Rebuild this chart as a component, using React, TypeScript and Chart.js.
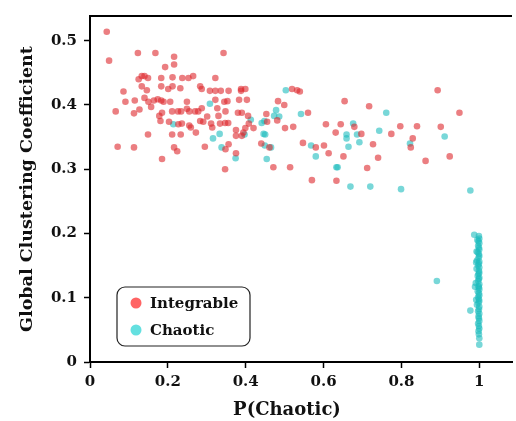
import React, { useEffect, useRef } from "react";
import { Chart, registerables } from "chart.js";
Chart.register(...registerables);

const seriesLabels = ["Integrable", "Chaotic"];
const xTitle = "P(Chaotic)";
const yTitle = "Global Clustering Coefficient";
const xTicks = [0, 0.2, 0.4, 0.6, 0.8, 1];
const yTicks = [0, 0.1, 0.2, 0.3, 0.4, 0.5];

const integrableX = [
  0.043, 0.049, 0.123, 0.168, 0.216, 0.216, 0.193, 0.343, 0.086, 0.091, 0.066, 0.071, 0.113, 0.113, 0.115, 0.127,
  0.125, 0.133, 0.14, 0.149, 0.133, 0.146, 0.14, 0.15, 0.157, 0.149, 0.164, 0.174, 0.183, 0.189, 0.183, 0.183,
  0.201, 0.212, 0.212, 0.237, 0.253, 0.265, 0.232, 0.206, 0.181, 0.178, 0.185, 0.203, 0.211, 0.233, 0.216, 0.224,
  0.185, 0.211, 0.226, 0.234, 0.236, 0.227, 0.249, 0.249, 0.255, 0.259, 0.255, 0.27, 0.278, 0.287, 0.283, 0.287,
  0.272, 0.283, 0.291, 0.295, 0.301, 0.311, 0.314, 0.308, 0.322, 0.336, 0.322, 0.322, 0.327, 0.33, 0.334, 0.345,
  0.348, 0.347, 0.355, 0.353, 0.356, 0.348, 0.356, 0.347, 0.375, 0.375, 0.375, 0.388, 0.383, 0.388, 0.399, 0.403,
  0.38, 0.39, 0.406, 0.408, 0.399, 0.42, 0.394, 0.39,
  0.519, 0.532, 0.539, 0.483, 0.499, 0.453, 0.455, 0.481, 0.44, 0.461, 0.471, 0.514, 0.547, 0.56, 0.58, 0.57,
  0.606, 0.601, 0.613, 0.631, 0.644, 0.654, 0.651, 0.633, 0.679, 0.697, 0.717, 0.727, 0.74, 0.712, 0.774, 0.797,
  0.84, 0.829, 0.824, 0.862, 0.893, 0.901, 0.924, 0.949, 0.501, 0.522,
];
const integrableY = [
  0.514, 0.469, 0.481, 0.481, 0.475, 0.463, 0.459, 0.481, 0.421, 0.405, 0.39, 0.335, 0.334, 0.387, 0.407, 0.393,
  0.44, 0.445, 0.445, 0.442, 0.429, 0.423, 0.411, 0.405, 0.397, 0.354, 0.407, 0.409, 0.407, 0.405, 0.442, 0.429,
  0.425, 0.429, 0.443, 0.442, 0.442, 0.445, 0.426, 0.405, 0.375, 0.383, 0.388, 0.374, 0.354, 0.354, 0.334, 0.328,
  0.316, 0.39, 0.39, 0.39, 0.371, 0.37, 0.405, 0.394, 0.39, 0.365, 0.368, 0.39, 0.39, 0.395, 0.429, 0.425,
  0.357, 0.375, 0.374, 0.335, 0.382, 0.371, 0.365, 0.422, 0.422, 0.422, 0.442, 0.408, 0.395, 0.383, 0.371, 0.405,
  0.39, 0.372, 0.372, 0.406, 0.422, 0.331, 0.339, 0.3, 0.325, 0.361, 0.352, 0.422, 0.408, 0.425, 0.425, 0.408,
  0.388, 0.388, 0.383, 0.371, 0.364, 0.364, 0.357, 0.352,
  0.425, 0.423, 0.421, 0.406, 0.4, 0.386, 0.374, 0.376, 0.34, 0.334, 0.303, 0.303, 0.341, 0.388, 0.334, 0.283,
  0.37, 0.337, 0.325, 0.357, 0.37, 0.406, 0.32, 0.282, 0.366, 0.355, 0.398, 0.339, 0.318, 0.302, 0.355, 0.367,
  0.367, 0.348, 0.334, 0.313, 0.423, 0.366, 0.32, 0.388, 0.364, 0.366,
];

const chaoticX = [
  0.214, 0.308, 0.316, 0.333, 0.338, 0.374, 0.397, 0.413, 0.503, 0.542, 0.478, 0.473, 0.486, 0.441, 0.448, 0.446,
  0.45, 0.449, 0.465, 0.454, 0.568, 0.58, 0.633, 0.636, 0.659, 0.659, 0.664, 0.676, 0.686, 0.692, 0.669, 0.72,
  0.743, 0.761, 0.822, 0.911, 0.799, 0.977, 0.987, 0.891, 0.977,
  0.999, 1.0, 0.998, 1.0, 0.997, 0.999, 1.0, 0.996, 0.999, 1.0, 0.998, 0.994, 1.0, 0.999, 0.997, 1.0,
  0.993, 0.999, 1.0, 0.998, 0.996, 1.0, 0.999, 0.997, 0.991, 1.0, 0.998, 0.999, 1.0, 0.996, 0.999, 1.0,
  0.997, 0.999, 1.0, 0.998, 0.994, 1.0, 0.999, 0.997, 1.0, 0.998, 0.999, 1.0, 0.997, 0.999, 1.0, 0.998,
  0.999, 1.0, 1.0, 0.995, 0.993, 0.989, 0.992, 0.992,
];
const chaoticY = [
  0.37, 0.402, 0.348, 0.355, 0.334, 0.317, 0.354, 0.377, 0.423, 0.386, 0.392, 0.383, 0.382, 0.372, 0.375, 0.355,
  0.354, 0.337, 0.334, 0.316, 0.337, 0.32, 0.303, 0.303, 0.354, 0.348, 0.335, 0.371, 0.354, 0.342, 0.273, 0.273,
  0.36, 0.388, 0.34, 0.351, 0.269, 0.267, 0.198, 0.126, 0.08,
  0.196, 0.192, 0.188, 0.185, 0.181, 0.178, 0.175, 0.171, 0.168, 0.165, 0.162, 0.158, 0.156, 0.153, 0.15, 0.147,
  0.145, 0.142, 0.139, 0.137, 0.134, 0.131, 0.129, 0.126, 0.123, 0.121, 0.118, 0.116, 0.113, 0.11, 0.107, 0.104,
  0.101, 0.098, 0.095, 0.092, 0.089, 0.086, 0.082, 0.079, 0.075, 0.071, 0.068, 0.064, 0.06, 0.056, 0.052, 0.048,
  0.043, 0.037, 0.027, 0.19, 0.172, 0.117, 0.097, 0.155,
];

const pointColors = ["rgba(222,40,45,0.6)", "rgba(30,188,190,0.6)"];
const legendColors = ["#ff6464", "#64e0e0"];
const FONT = '"DejaVu Serif", serif';

const fmt = (v: number) => {
  const r = Math.round(v * 10) / 10;
  return r === 0 ? "0" : r === 1 ? "1" : String(r);
};

const decorPlugin = {
  id: "decor",
  afterDraw(chart: any) {
    const { ctx, chartArea } = chart;
    ctx.save();
    // top spine
    ctx.strokeStyle = "#000";
    ctx.lineWidth = 2;
    ctx.beginPath();
    ctx.moveTo(chartArea.left - 1, chartArea.top);
    ctx.lineTo(chartArea.right, chartArea.top);
    ctx.stroke();
    // x title
    ctx.fillStyle = "#111";
    ctx.font = `bold 18px ${FONT}`;
    ctx.textAlign = "center";
    ctx.textBaseline = "middle";
    ctx.fillText(xTitle, 287, 410);
    // legend
    const bx = chartArea.left + 27;
    const by = chartArea.bottom - 75;
    const bw = 133;
    const bh = 59;
    ctx.beginPath();
    ctx.roundRect(bx, by, bw, bh, 8);
    ctx.fillStyle = "rgba(255,255,255,0.85)";
    ctx.fill();
    ctx.strokeStyle = "#222";
    ctx.lineWidth = 1.2;
    ctx.stroke();
    chart.data.datasets.forEach((ds: any, i: number) => {
      const cy = by + 16 + i * 27;
      ctx.beginPath();
      ctx.arc(bx + 19, cy, 5.5, 0, Math.PI * 2);
      ctx.fillStyle = legendColors[i];
      ctx.fill();
      ctx.fillStyle = "#111";
      ctx.font = `bold 15px ${FONT}`;
      ctx.textAlign = "left";
      ctx.textBaseline = "middle";
      ctx.fillText(ds.label, bx + 33, cy + 1);
    });
    ctx.restore();
  },
};

export default function App() {
  const ref = useRef<HTMLCanvasElement>(null);
  useEffect(() => {
    if (!ref.current) return;
    const mk = (xs: number[], ys: number[]) => xs.map((x, i) => ({ x, y: ys[i] }));
    const chart = new Chart(ref.current, {
      type: "scatter",
      data: {
        datasets: [
          {
            label: seriesLabels[0],
            data: mk(integrableX, integrableY),
            pointBackgroundColor: pointColors[0],
            pointBorderWidth: 0,
            pointRadius: 3.3,
          },
          {
            label: seriesLabels[1],
            data: mk(chaoticX, chaoticY),
            pointBackgroundColor: pointColors[1],
            pointBorderWidth: 0,
            pointRadius: 3.3,
          },
        ],
      },
      options: {
        animation: false,
        responsive: false,
        devicePixelRatio: 1,
        layout: { padding: { top: 12, right: 0, left: 0, bottom: 0 } },
        plugins: { legend: { display: false }, tooltip: { enabled: false } },
        scales: {
          x: {
            type: "linear",
            min: 0,
            max: 1.084,
            afterBuildTicks: (s: any) => {
              s.ticks = xTicks.map((v) => ({ value: v }));
            },
            afterFit: (s: any) => {
              s.height = 59;
            },
            ticks: {
              callback: (v: any) => fmt(Number(v)),
              font: { family: FONT, size: 15, weight: "bold" },
              color: "#111",
              padding: 5,
              maxRotation: 0,
              autoSkip: false,
            },
            grid: { drawOnChartArea: false, drawTicks: true, tickLength: 6, tickColor: "#000", tickWidth: 1.5 },
            border: { display: true, color: "#000", width: 2 },
          },
          y: {
            type: "linear",
            min: 0,
            max: 0.5385,
            afterBuildTicks: (s: any) => {
              s.ticks = yTicks.map((v) => ({ value: v }));
            },
            afterFit: (s: any) => {
              s.width = 90;
            },
            ticks: {
              callback: (v: any) => fmt(Number(v)),
              font: { family: FONT, size: 15, weight: "bold" },
              color: "#111",
              padding: 7,
              autoSkip: false,
            },
            grid: { drawOnChartArea: false, drawTicks: true, tickLength: 6, tickColor: "#000", tickWidth: 1.5 },
            border: { display: true, color: "#000", width: 2 },
            title: {
              display: true,
              text: yTitle,
              color: "#111",
              font: { family: FONT, size: 17.5, weight: "bold" },
              padding: { top: 16.5, bottom: 0 },
            },
          },
        },
      },
      plugins: [decorPlugin],
    });
    return () => chart.destroy();
  }, []);
  return (
    <div style={{ position: "absolute", left: 0, top: 0, width: 516, height: 421, background: "#fff" }}>
      <canvas ref={ref} width={516} height={421} />
    </div>
  );
}
